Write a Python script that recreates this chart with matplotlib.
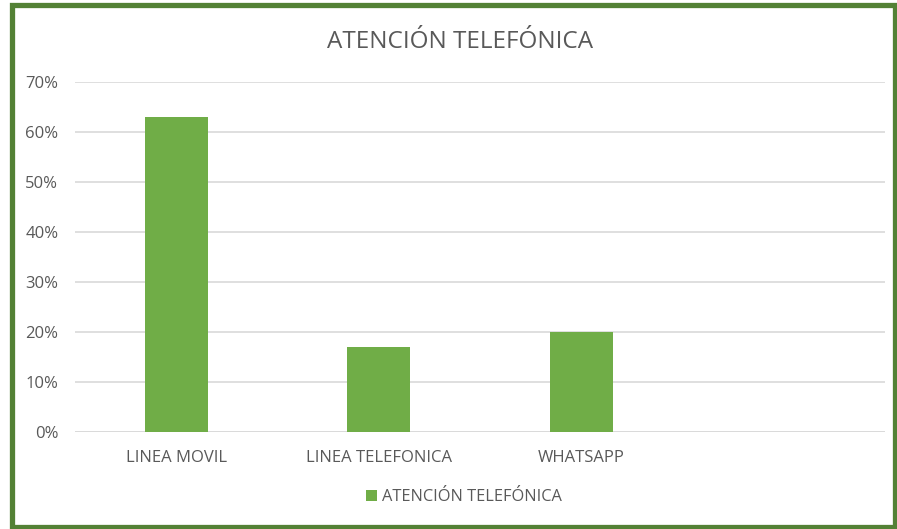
import matplotlib.pyplot as plt
from matplotlib.patches import Rectangle

categories = ["LINEA MOVIL", "LINEA TELEFONICA", "WHATSAPP", ""]
values = [0.63, 0.17, 0.20, None]
series_name = "ATENCIÓN TELEFÓNICA"
yticks = [0, 0.1, 0.2, 0.3, 0.4, 0.5, 0.6, 0.7]

plt.rcParams['font.family'] = ['Open Sans', 'DejaVu Sans']
text_col = "#595959"
bar_col = "#70AD47"

fig = plt.figure(figsize=(8.97, 5.29), dpi=100)
fig.patch.set_facecolor("white")

# green frame around the chart
fig.patches.append(Rectangle((11.5 / 897, 2.5 / 529), 883 / 897, 522 / 529,
                             transform=fig.transFigure, fill=False,
                             edgecolor="#538135", linewidth=3.8))

ax = fig.add_axes([75 / 897, 97 / 529, 810 / 897, 350 / 529])
x = list(range(len(categories)))
h = [v if v is not None else 0 for v in values]
ax.bar(x[:3], h[:3], width=0.31, color=bar_col, zorder=3, label=series_name)

ax.set_xlim(-0.5, len(categories) - 0.5)
ax.set_ylim(0, 0.7)
ax.set_yticks(yticks)
ax.set_yticklabels([f"{int(round(t * 100))}%" for t in yticks])
ax.set_xticks(x)
ax.set_xticklabels(categories)
ax.grid(axis="y", color="#D9D9D9", linewidth=1.2, zorder=0)
for s in ax.spines.values():
    s.set_visible(False)
ax.axhline(0, color="#D9D9D9", linewidth=1.2, zorder=1)
ax.tick_params(length=0, colors=text_col, labelsize=12)
ax.tick_params(axis="y", pad=12)
ax.tick_params(axis="x", pad=13)

fig.text(460 / 897, 1 - 42 / 529, series_name, ha="center", va="center",
         fontsize=17.5, color=text_col)

leg = fig.legend(loc="center", bbox_to_anchor=(464 / 897, 1 - 497 / 529), frameon=False,
                 handlelength=0.65, handleheight=0.65, handletextpad=0.35,
                 fontsize=11.8)
for t in leg.get_texts():
    t.set_color(text_col)

fig.savefig("out.png", dpi=100)
